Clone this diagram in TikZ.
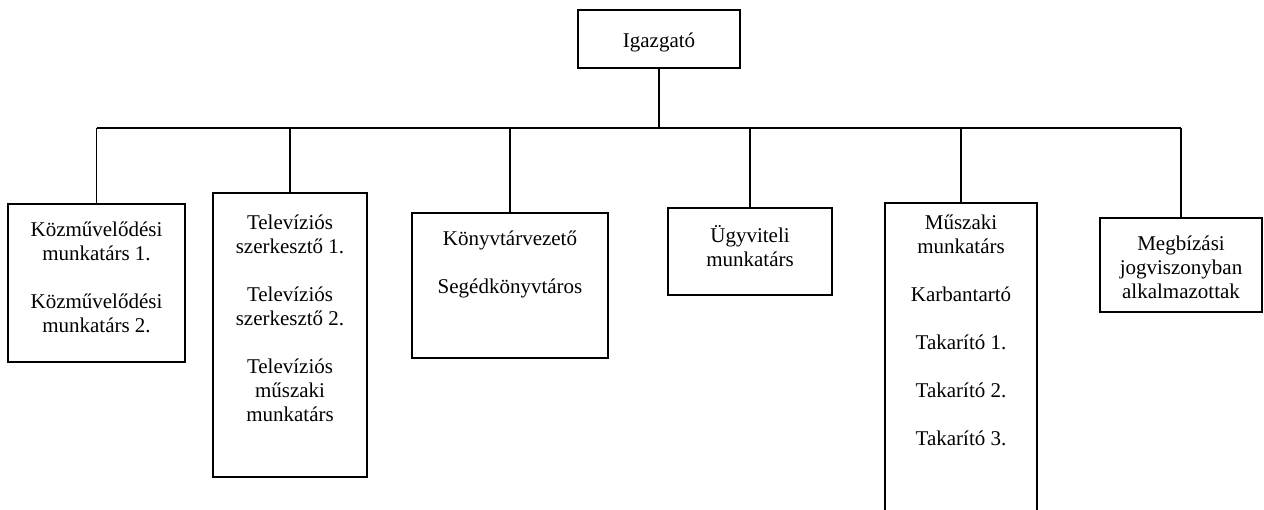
\documentclass[tikz,border=0pt]{standalone}
\usepackage{fontspec}
\setmainfont{Liberation Serif}
\begin{document}
\begin{tikzpicture}[x=1pt,y=-1pt,
  box/.style={draw, line width=1.6pt, rectangle, inner sep=0pt},
  lbl/.style={align=center, anchor=north, inner sep=0pt, font=\fontsize{21}{24}\selectfont},
  conn/.style={line width=1.2pt}]
\useasboundingbox (0,0) rectangle (1264,509);
% boxes
\node[box, minimum width=162pt, minimum height=58pt] (top) at (659,39) {};
\node[box, minimum width=177pt, minimum height=158pt] (b1) at (96.5,283) {};
\node[box, minimum width=154pt, minimum height=284pt] (b2) at (290,335) {};
\node[box, minimum width=196pt, minimum height=145pt] (b3) at (510,285.5) {};
\node[box, minimum width=164pt, minimum height=87pt] (b4) at (750,251.5) {};
\node[box, minimum width=152pt, minimum height=340pt] (b5) at (961,373) {};
\node[box, minimum width=162pt, minimum height=94pt] (b6) at (1181,265) {};
% texts
\node[font=\fontsize{21}{24}\selectfont, inner sep=0pt] (t0) at ([yshift=-3]top.center) {Igazgató};
\node[lbl] (t1) at ([yshift=-18]b1.north) {Közművelődési\\munkatárs 1.\\[24pt]Közművelődési\\munkatárs 2.};
\node[lbl] (t2) at ([yshift=-22]b2.north) {Televíziós\\szerkesztő 1.\\[24pt]Televíziós\\szerkesztő 2.\\[24pt]Televíziós\\műszaki\\munkatárs};
\node[lbl] (t3) at ([yshift=-18]b3.north) {Könyvtárvezető\\[24pt]Segédkönyvtáros};
\node[lbl] (t4) at ([yshift=-18]b4.north) {Ügyviteli\\munkatárs};
\node[lbl] (t5) at ([yshift=-12]b5.north) {Műszaki\\munkatárs\\[24pt]Karbantartó\\[24pt]Takarító 1.\\[24pt]Takarító 2.\\[24pt]Takarító 3.};
\node[lbl] (t6) at ([yshift=-18]b6.north) {Megbízási\\jogviszonyban\\alkalmazottak};
% connectors
\coordinate (bus) at (0,128);
\draw[conn] (top.south) -- (top.south |- bus);
\draw[conn] (b1.north |- bus) -- (b6.north |- bus);
\foreach \b in {b1,b2,b3,b4,b5,b6}{
  \draw[conn] (\b.north) -- (\b.north |- bus);
}
\end{tikzpicture}
\end{document}
